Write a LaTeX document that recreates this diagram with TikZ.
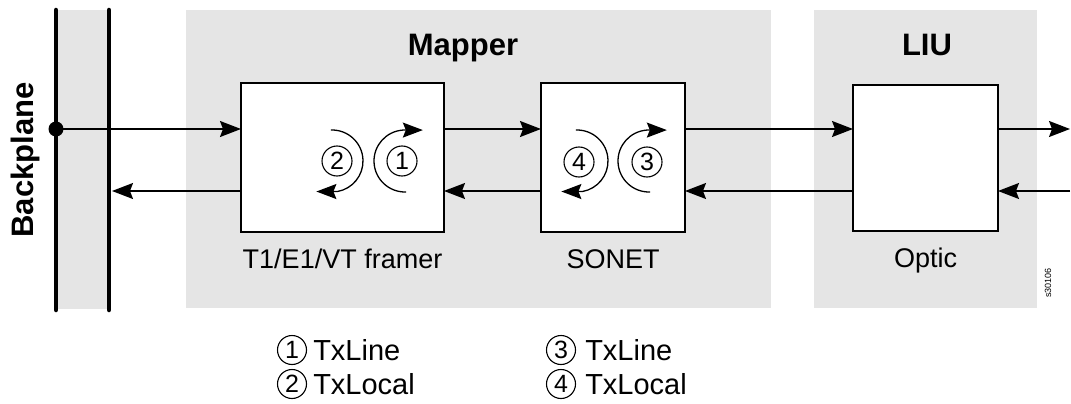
\documentclass[tikz,border=0pt]{standalone}
\usepackage{fontspec}
\setmainfont{Liberation Sans}
\usetikzlibrary{arrows.meta}
\definecolor{panelgrey}{RGB}{229,229,229}

\begin{document}
\begin{tikzpicture}[x=1pt,y=-1pt,
  panel/.style={fill=panelgrey, draw=none},
  busbar/.style={line width=4.5pt, line cap=round},
  unitbox/.style={draw=black, line width=2pt, fill=white, anchor=north west,
    inner sep=0pt, outer sep=0pt},
  sig/.style={line width=1.5pt, -{Stealth[length=21pt,width=16pt,inset=3pt]}},
  loopar/.style={line width=1.3pt, -{Stealth[length=20pt,width=15pt,inset=3pt]}},
  numc/.style={circle, draw=black, line width=1.1pt, minimum size=30pt,
    inner sep=0pt, font=\fontsize{25}{25}\selectfont},
  legc/.style={circle, draw=black, line width=1.1pt, minimum size=29pt,
    inner sep=0pt, font=\fontsize{25}{25}\selectfont},
  lab/.style={font=\fontsize{27}{30}\selectfont, inner sep=0pt},
  legtext/.style={font=\fontsize{29}{32}\selectfont, inner sep=0pt, anchor=west},
  title/.style={font=\bfseries\fontsize{31}{31}\selectfont, inner sep=0pt}]

\useasboundingbox (0,0) rectangle (1071,404);

% background panels
\fill[panelgrey] (56,10) rectangle (109,309);
\fill[panelgrey] (186,10) rectangle (771,308);
\fill[panelgrey] (814,10) rectangle (1037,308);

% backplane bus
\draw[busbar] (56,10) -- (56,310);
\draw[busbar] (109,10) -- (109,310);
\coordinate (rbar) at (112,10);
\node[title, rotate=90, anchor=base] (bplabel) at (34,160) {Backplane};
\node[circle, fill=black, inner sep=0pt, minimum size=15pt] (bpdot) at (56,129) {};

% section titles
\node[title, anchor=base] (mapper) at (463,56) {Mapper};
\node[title, anchor=base] (liu) at (927,56) {LIU};

% functional blocks
\node[unitbox, minimum width=203pt, minimum height=149pt] (framer) at (241,83) {};
\node[unitbox, minimum width=144pt, minimum height=149pt] (sonet) at (541,83) {};
\node[unitbox, minimum width=145pt, minimum height=146pt] (optic) at (853,85) {};

\node[lab, anchor=base] at ([yshift=-36pt]framer.south) {T1/E1/VT framer};
\node[lab, anchor=base] at ([yshift=-36pt]sonet.south) {SONET};
\node[lab, anchor=base] at ([yshift=-36pt]optic.south) {Optic};

% signal levels
\coordinate (hi) at (0,129);
\coordinate (lo) at (0,191);
\coordinate (edge) at (1070,0);

% transmit and receive paths
\draw[sig] (bpdot.center) -- (framer.west |- hi);
\draw[sig] (framer.west |- lo) -- (rbar |- lo);
\draw[sig] (framer.east |- hi) -- (sonet.west |- hi);
\draw[sig] (sonet.west |- lo) -- (framer.east |- lo);
\draw[sig] (sonet.east |- hi) -- (optic.west |- hi);
\draw[sig] (optic.west |- lo) -- (sonet.east |- lo);
\draw[sig] (optic.east |- hi) -- (edge |- hi);
\draw[sig] (edge |- lo) -- (optic.east |- lo);

% loopbacks in the framer
\coordinate (c1) at (405,161);
\coordinate (c2) at (332,161);
\draw[loopar] (c1) ++(88:31) arc[start angle=88, end angle=266, radius=31] -- ++(20,0);
\draw[loopar] (c2) ++(268:31) arc[start angle=268, end angle=440, radius=31] -- ++(-21,0);
\node[numc] (n1) at (402,161) {1};
\node[numc] (n2) at (337,161) {2};

% loopbacks in the SONET block
\coordinate (c3) at (649,161);
\coordinate (c4) at (577,161);
\draw[loopar] (c3) ++(88:31) arc[start angle=88, end angle=266, radius=31] -- ++(20,0);
\draw[loopar] (c4) ++(268:31) arc[start angle=268, end angle=440, radius=31] -- ++(-21,0);
\node[numc] (n3) at (647,162) {3};
\node[numc] (n4) at (579,162) {4};

% legend
\node[legc] (l1) at (292,350) {1};
\node[legc] (l2) at (292,384) {2};
\node[legc] (l3) at (561,350) {3};
\node[legc] (l4) at (561,384) {4};
\node[legtext] at ([xshift=6pt]l1.east) {TxLine};
\node[legtext] at ([xshift=6pt]l2.east) {TxLocal};
\node[legtext] at ([xshift=9pt]l3.east) {TxLine};
\node[legtext] at ([xshift=9pt]l4.east) {TxLocal};

% drawing number
\node[rotate=90, inner sep=0pt, font=\fontsize{9}{9}\selectfont] (dwg) at (1048,283) {s30106};
\end{tikzpicture}
\end{document}
